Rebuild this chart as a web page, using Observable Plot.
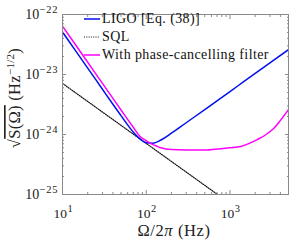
<!DOCTYPE html>
<html><head><meta charset="utf-8">
<script src="https://cdn.jsdelivr.net/npm/d3@7"></script>
<script src="https://cdn.jsdelivr.net/npm/@observablehq/plot@0.6"></script>
<style>
body{margin:0;background:#fff;}
#wrap{position:relative;width:291px;height:243px;}
#legend{position:absolute;left:84px;top:10px;font-family:"Liberation Serif",serif;font-size:14px;letter-spacing:0.4px;color:#111;}
#legend .row{height:18px;display:flex;align-items:center;white-space:nowrap;}
#legend svg{margin-right:2px;}
</style>
</head><body><div id="wrap"><div id="legend"></div></div>
<script>
// Frequencies (Hz) and amplitude spectral densities
const freqLIGO = [10,15,20,30,40,50,70,85,100,120,150,200,300,500,700,1000,1500,2000,3000,5000];
const asdLIGO  = [5.1e-23,2.27e-23,1.28e-23,5.67e-24,3.19e-24,2.06e-24,1.10e-24,8.33e-25,7.28e-25,7.17e-25,8.1e-25,1.05e-24,1.57e-24,2.6e-24,3.64e-24,5.2e-24,7.8e-24,1.04e-23,1.56e-23,2.6e-23];
const freqSQL = [10,100,1000];
const asdSQL  = [7.1e-24,7.1e-25,7.1e-26];
const freqPCF = [10,15,20,30,40,50,70,85,100,112,130,150,200,300,500,770,1000,1340,1700,2140,2700,3320,4000,5000];
const asdPCF  = [6.4e-23,2.84e-23,1.6e-23,7.1e-24,4.0e-24,2.56e-24,1.32e-24,9.2e-25,7.9e-25,7.1e-25,6.5e-25,6.0e-25,5.6e-25,5.5e-25,5.5e-25,5.8e-25,6.0e-25,6.3e-25,7.1e-25,8.3e-25,1.0e-24,1.26e-24,1.72e-24,2.6e-24];
const seriesNames = ["LIGO [Eq. (38)]","SQL","With phase-cancelling filter"];
const seriesColors = ["#0010ee","#111111","#ff00ff"];
const xTicks = [10,100,1000];
const xTickExp = ["1","2","3"];
const yTicks = [1e-25,1e-24,1e-23,1e-22];
const yTickExp = ["-25","-24","-23","-22"];
const xMinor = [20,30,40,50,60,70,80,90,200,300,400,500,600,700,800,900,2000,3000,4000,5000];
const yMinor = [];
for (const e of [-25,-24,-23]) for (let m=2;m<=9;m++) yMinor.push(m*Math.pow(10,e));

const toRows = (fs, vs) => fs.map((f,i)=>({f, v: vs[i]}));
const ligo = toRows(freqLIGO, asdLIGO), sql = toRows(freqSQL, asdSQL), pcf = toRows(freqPCF, asdPCF);

const axisColor = "#8a8a8a";
const blank = () => "";
const chart = Plot.plot({
  width: 291, height: 243,
  marginLeft: 62, marginRight: 3, marginTop: 14, marginBottom: 49,
  style: {fontFamily: "Liberation Serif, serif", fontSize: "13px", background: "#fff", overflow: "visible"},
  x: {type: "log", domain: [10, 5000]},
  y: {type: "log", domain: [1e-25, 1e-22]},
  marks: [
    Plot.line(sql, {x: "f", y: "v", stroke: seriesColors[1], strokeWidth: 1.2, strokeDasharray: "1,1.3", clip: true}),
    Plot.line(ligo, {x: "f", y: "v", stroke: seriesColors[0], strokeWidth: 1.5, curve: "monotone-x", clip: true}),
    Plot.line(pcf, {x: "f", y: "v", stroke: seriesColors[2], strokeWidth: 1.5, curve: "monotone-x", clip: true}),
    Plot.frame({stroke: axisColor, strokeWidth: 1}),
    Plot.axisX({anchor: "bottom", ticks: xTicks, tickSize: -4, tickFormat: blank, label: null, stroke: axisColor}),
    Plot.axisX({anchor: "top", ticks: xTicks, tickSize: -4, tickFormat: blank, label: null, stroke: axisColor}),
    Plot.axisX({anchor: "bottom", ticks: xMinor, tickSize: -2, tickFormat: blank, label: null, stroke: axisColor}),
    Plot.axisX({anchor: "top", ticks: xMinor, tickSize: -2, tickFormat: blank, label: null, stroke: axisColor}),
    Plot.axisY({anchor: "left", ticks: yTicks, tickSize: -4, tickFormat: blank, label: null, stroke: axisColor}),
    Plot.axisY({anchor: "right", ticks: yTicks, tickSize: -4, tickFormat: blank, label: null, stroke: axisColor}),
    Plot.axisY({anchor: "left", ticks: yMinor, tickSize: -2, tickFormat: blank, label: null, stroke: axisColor}),
    Plot.axisY({anchor: "right", ticks: yMinor, tickSize: -2, tickFormat: blank, label: null, stroke: axisColor})
  ]
});
document.getElementById("wrap").prepend(chart);

const svg = d3.select(chart);
const xs = chart.scale("x"), ys = chart.scale("y");
const txt = "#222";
const yb = ys.apply(1e-25);
const serif = "Liberation Serif, serif";
// x tick labels
xTicks.forEach((t,i)=>{
  const g = svg.append("text").attr("x", xs.apply(t) + 1).attr("y", yb + 23.5).attr("text-anchor","middle")
    .attr("fill", txt).style("font-family",serif).style("font-size","13.5px");
  g.append("tspan").text("10");
  g.append("tspan").attr("dy","-5.5").attr("dx","0.5").style("font-size","10.5px").text(xTickExp[i]);
});
// y tick labels
yTicks.forEach((t,i)=>{
  const g = svg.append("text").attr("x", xs.apply(10) - 4).attr("y", ys.apply(t) + 4.5).attr("text-anchor","end")
    .attr("fill", txt).style("font-family",serif).style("font-size","14px");
  g.append("tspan").text("10");
  g.append("tspan").attr("dy","-5.5").attr("dx","0.5").style("font-size","10.5px").style("letter-spacing","0.6px").text(yTickExp[i].replace("-","\u2212"));
});
// x label
const xl = svg.append("text").attr("x", (xs.apply(10)+xs.apply(5000))/2 - 1).attr("y", yb + 41.5)
  .attr("text-anchor","middle").attr("fill", txt).style("font-family",serif).style("font-size","16.5px").style("letter-spacing","0.6px");
xl.append("tspan").text("Ω/2");
xl.append("tspan").style("font-style","italic").text("π");
xl.append("tspan").text(" (Hz)");
// y label
const yc = (ys.apply(1e-25)+ys.apply(1e-22))/2 - 6;
const yl = svg.append("text").attr("transform", `translate(20,${yc}) rotate(-90)`)
  .attr("text-anchor","middle").attr("fill", txt).style("font-family",serif).style("font-size","16.5px").style("letter-spacing","0.3px");
yl.append("tspan").text("√");
yl.append("tspan").style("text-decoration","overline").text("S(Ω)");
yl.append("tspan").text(" (Hz");
yl.append("tspan").attr("dy","-6").style("font-size","11px").text("−1/2");
yl.append("tspan").attr("dy","6").text(")");

// legend
const leg = d3.select("#legend");
seriesNames.forEach((n,i)=>{
  const row = leg.append("div").attr("class","row");
  const s = row.append("svg").attr("width",16).attr("height",4);
  s.append("line").attr("x1",0).attr("x2",16).attr("y1",2).attr("y2",2)
    .attr("stroke", seriesColors[i]).attr("stroke-width", i===1?1.2:1.5)
    .attr("stroke-dasharray", i===1?"1,1.3":null);
  row.append("span").text(n);
});
</script>
</body></html>
